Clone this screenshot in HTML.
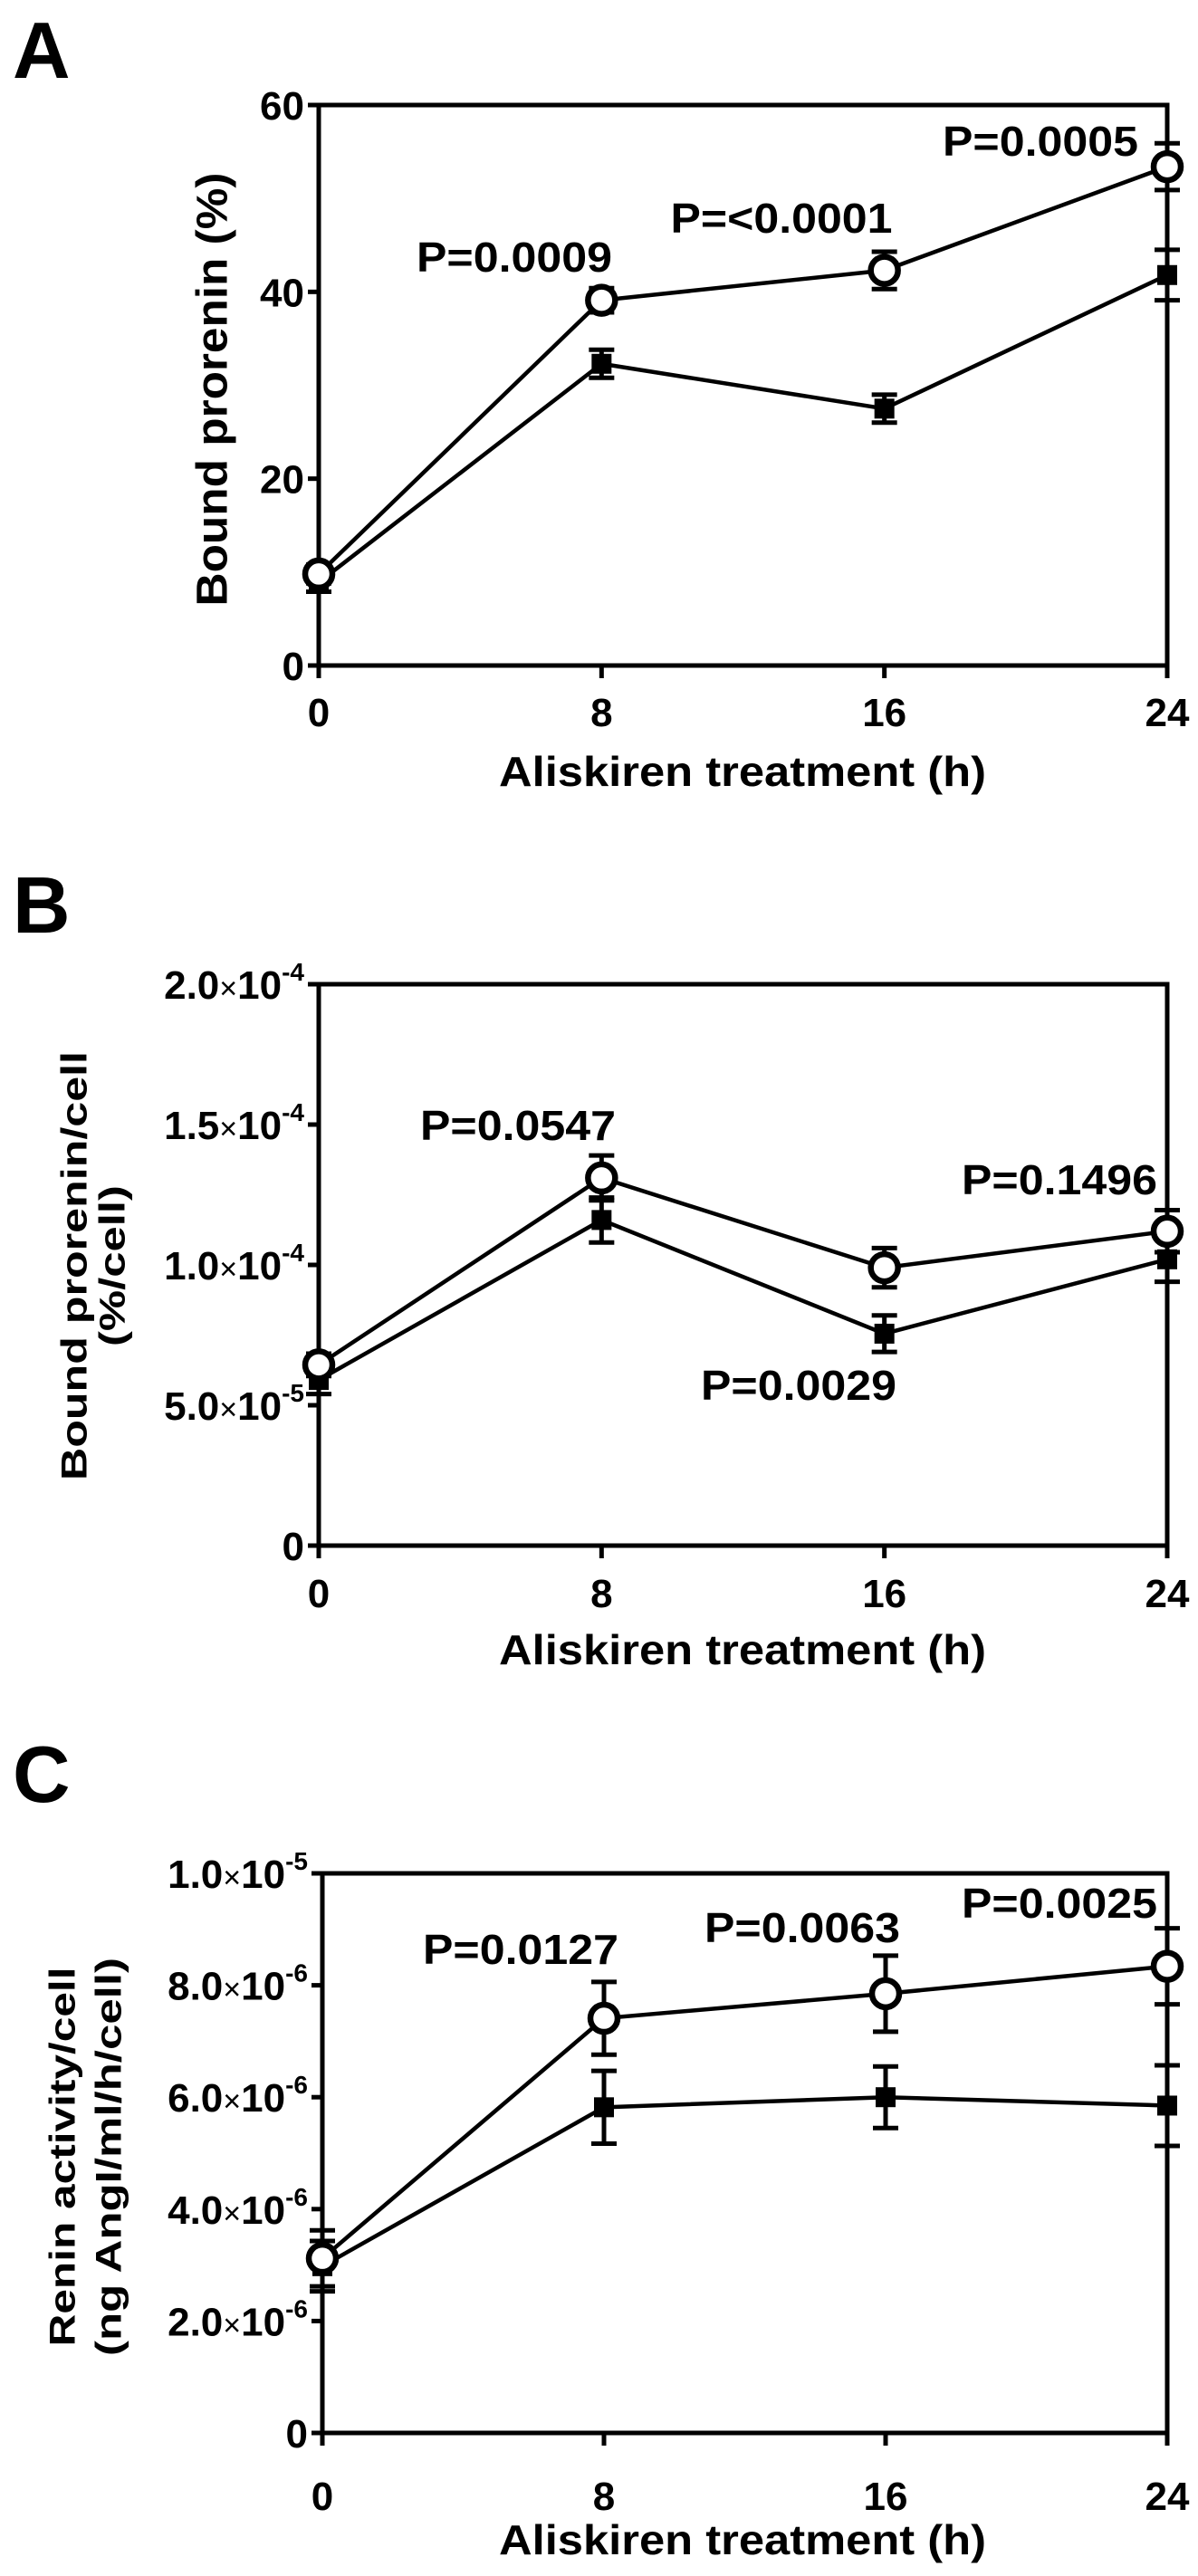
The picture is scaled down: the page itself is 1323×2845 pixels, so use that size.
<!DOCTYPE html>
<html><head><meta charset="utf-8"><style>
html,body{margin:0;padding:0;background:#fff}
svg{display:block;font-family:"Liberation Sans",Arial,sans-serif;font-weight:bold}
</style></head><body>
<svg id="fig" width="1323" height="2845" viewBox="0 0 1323 2845" xmlns="http://www.w3.org/2000/svg"></svg>
<script>
const hours = [0, 8, 16, 24];
const xTickLabels = ["0", "8", "16", "24"];
// Panel A
const aOpen = [9.8, 39.1, 42.3, 53.4];
const aOpenErr = [1.0, 1.3, 2.0, 2.5];
const aFilled = [8.9, 32.3, 27.5, 41.8];
const aFilledErr = [1.0, 1.5, 1.5, 2.7];
const aTicks = [0, 20, 40, 60];
const aTickLabels = ["0", "20", "40", "60"];
const aPLabels = ["P=0.0009", "P=<0.0001", "P=0.0005"];
// Panel B
const bOpen = [6.44e-5, 1.31e-4, 0.99e-4, 1.12e-4];
const bOpenErr = [0.4e-5, 0.8e-5, 0.7e-5, 0.75e-5];
const bFilled = [5.9e-5, 1.16e-4, 7.55e-5, 1.02e-4];
const bFilledErr = [0.5e-5, 0.8e-5, 0.65e-5, 0.8e-5];
const bTicks = [0, 5e-5, 1e-4, 1.5e-4, 2e-4];
const bTickMant = ["0", "5.0", "1.0", "1.5", "2.0"];
const bTickExp = ["", "-5", "-4", "-4", "-4"];
const bPLabels = ["P=0.0547", "P=0.0029", "P=0.1496"];
// Panel C
const cOpen = [3.12e-6, 7.41e-6, 7.85e-6, 8.34e-6];
const cOpenErr = [0.5e-6, 0.65e-6, 0.68e-6, 0.68e-6];
const cFilled = [2.98e-6, 5.82e-6, 6.0e-6, 5.85e-6];
const cFilledErr = [0.45e-6, 0.65e-6, 0.55e-6, 0.72e-6];
const cTicks = [0, 2e-6, 4e-6, 6e-6, 8e-6, 1e-5];
const cTickMant = ["0", "2.0", "4.0", "6.0", "8.0", "1.0"];
const cTickExp = ["", "-6", "-6", "-6", "-6", "-5"];
const cPLabels = ["P=0.0127", "P=0.0063", "P=0.0025"];

const NS = "http://www.w3.org/2000/svg";
const svg = document.getElementById("fig");
function mk(tag, attrs, parent, text) {
  const e = document.createElementNS(NS, tag);
  for (const k in attrs) e.setAttribute(k, attrs[k]);
  if (text !== undefined) e.textContent = text;
  (parent || svg).appendChild(e);
  return e;
}

function panel(cfg) {
  const g = mk("g", {});
  
  
  const X = h => cfg.x0 + (cfg.x1 - cfg.x0) * h / 24;
  const Y = v => cfg.yb + (cfg.yt - cfg.yb) * v / cfg.ymax;
  const letter = mk("text", {x: 14, y: cfg.letterY, "font-size": 88}, g, cfg.letter);
  
  
  const box = mk("rect", {x: cfg.x0, y: cfg.yt, width: cfg.x1 - cfg.x0, height: cfg.yb - cfg.yt, fill: "none", stroke: "#000", "stroke-width": 5}, g);
  
  
  cfg.yTicks.forEach((v, i) => {
    mk("line", {x1: cfg.x0 - 12, x2: cfg.x0, y1: Y(v), y2: Y(v), stroke: "#000", "stroke-width": 5}, g);
    const t = mk("text", {x: cfg.x0 - 16, y: Y(v) + 16, "text-anchor": "end", "font-size": 44}, g);
    
    
    if (cfg.yExp && cfg.yExp[i]) {
      mk("tspan", {}, t, cfg.yLabels[i]);
      mk("tspan", {"font-size": 34, "font-weight": "normal"}, t, "\u00d7");
      mk("tspan", {}, t, "10");
      mk("tspan", {"font-size": 28, dy: -20}, t, cfg.yExp[i]);
    } else {
      t.textContent = cfg.yLabels[i];
    }
  });
  hours.forEach((h, i) => {
    mk("line", {x1: X(h), x2: X(h), y1: cfg.yb, y2: cfg.yb + 14, stroke: "#000", "stroke-width": 5}, g);
    const t = mk("text", {x: X(h), y: cfg.xLabY + 16, "text-anchor": "middle", "font-size": 44}, g, xTickLabels[i]);
    
    
  });
  const xt = mk("text", {x: 820, y: cfg.xTitleY + 16, "text-anchor": "middle", "font-size": 46, textLength: 538, lengthAdjust: "spacingAndGlyphs"}, g, "Aliskiren treatment (h)");
  
  
  cfg.yTitle.forEach((line, i) => {
    const tx = cfg.yTitleX[i];
    const fs = cfg.yTitle.length > 1 ? 40 : 48;
    const t = mk("text", {x: tx, y: cfg.yTitleY, "text-anchor": "middle", "font-size": fs, textLength: cfg.yTitleLen[i], lengthAdjust: "spacingAndGlyphs", transform: `rotate(-90 ${tx} ${cfg.yTitleY}) translate(0 ${fs * 0.36})`}, g, line);
    
    
  });
  function series(vals, errs, kind) {
    const sg = mk("g", {}, g);
    
    
    mk("polyline", {points: vals.map((v, i) => X(hours[i]) + "," + Y(v)).join(" "), fill: "none", stroke: "#000", "stroke-width": 4.5}, sg);
    vals.forEach((v, i) => {
      const cx = X(hours[i]), cy = Y(v), e = errs[i];
      const eb = mk("path", {d: `M${cx},${Y(v + e)}V${Y(v - e)}M${cx - 14},${Y(v + e)}h28M${cx - 14},${Y(v - e)}h28`, stroke: "#000", "stroke-width": 5, fill: "none"}, sg);
      
      
      let m;
      if (kind === "open") m = mk("circle", {cx: cx, cy: cy, r: 15, fill: "#fff", stroke: "#000", "stroke-width": 6.5}, sg);
      else m = mk("rect", {x: cx - 11, y: cy - 11, width: 22, height: 22, fill: "#000"}, sg);
      
      
    });
  }
  series(cfg.filled, cfg.filledErr, "filled");
  series(cfg.open, cfg.openErr, "open");
  cfg.pLabels.forEach((s, i) => {
    const p = cfg.pPos[i];
    const t = mk("text", {x: p[0], y: p[1] + 16, "text-anchor": "middle", "font-size": 46, textLength: p[2], lengthAdjust: "spacingAndGlyphs"}, g, s);
    
    
  });
}

panel({name: "panel-a", letter: "A", letterY: 86, x0: 352, x1: 1289, yt: 116, yb: 735, ymax: 60,
  yTicks: aTicks, yLabels: aTickLabels, yExp: null, xLabY: 786, xTitleY: 852,
  yTitle: ["Bound prorenin (%)"], yTitleX: [233], yTitleY: 430, yTitleLen: [479],
  open: aOpen, openErr: aOpenErr, filled: aFilled, filledErr: aFilledErr,
  pLabels: aPLabels, pPos: [[568, 284, 216], [863, 241, 245], [1149, 156, 216]]});

panel({name: "panel-b", letter: "B", letterY: 1030, x0: 352, x1: 1289, yt: 1087, yb: 1707, ymax: 2e-4,
  yTicks: bTicks, yLabels: bTickMant, yExp: bTickExp, xLabY: 1759, xTitleY: 1822,
  yTitle: ["Bound prorenin/cell", "(%/cell)"], yTitleX: [81, 123], yTitleY: 1398, yTitleLen: [474, 178],
  open: bOpen, openErr: bOpenErr, filled: bFilled, filledErr: bFilledErr,
  pLabels: bPLabels, pPos: [[572, 1243, 216], [882, 1530, 216], [1170, 1303, 216]]});

panel({name: "panel-c", letter: "C", letterY: 1990, x0: 356, x1: 1289, yt: 2069, yb: 2687, ymax: 1e-5,
  yTicks: cTicks, yLabels: cTickMant, yExp: cTickExp, xLabY: 2756, xTitleY: 2805,
  yTitle: ["Renin activity/cell", "(ng AngI/ml/h/cell)"], yTitleX: [68, 119], yTitleY: 2382, yTitleLen: [419, 440],
  open: cOpen, openErr: cOpenErr, filled: cFilled, filledErr: cFilledErr,
  pLabels: cPLabels, pPos: [[575, 2153, 216], [886, 2129, 216], [1170, 2102, 216]]});
</script>
</body></html>
